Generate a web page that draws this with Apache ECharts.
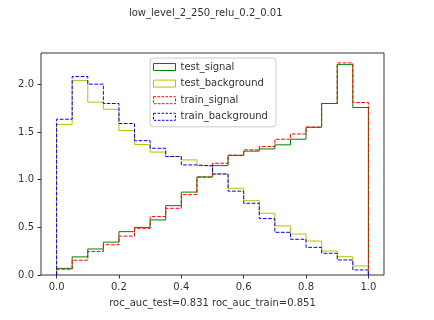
<!DOCTYPE html>
<html><head><meta charset="utf-8">
<script src="https://cdn.jsdelivr.net/npm/echarts@6/dist/echarts.min.js"></script>
<style>html,body{margin:0;padding:0;background:#fff}#c{width:434px;height:320px}</style>
</head><body><div id="c"></div>
<script>
const binEdges = [0,0.05,0.1,0.15,0.2,0.25,0.3,0.35,0.4,0.45,0.5,0.55,0.6,0.65,0.7,0.75,0.8,0.85,0.9,0.95,1.0];
const testSignal = [0.07,0.19,0.273,0.345,0.455,0.50,0.578,0.728,0.87,1.03,1.148,1.255,1.30,1.323,1.366,1.425,1.55,1.80,2.208,1.758];
const testBackground = [1.58,2.04,1.814,1.74,1.516,1.37,1.29,1.243,1.208,1.148,1.06,0.91,0.78,0.648,0.515,0.43,0.357,0.252,0.192,0.095];
const trainSignal = [0.06,0.155,0.247,0.318,0.408,0.49,0.613,0.70,0.844,1.026,1.173,1.258,1.313,1.348,1.425,1.48,1.553,1.80,2.226,1.81];
const trainBackground = [1.635,2.083,2.003,1.80,1.59,1.41,1.33,1.243,1.155,1.145,1.06,0.88,0.753,0.592,0.448,0.375,0.29,0.228,0.158,0.053];
const xTicks = [0,0.2,0.4,0.6,0.8,1.0];
const yTicks = [0,0.5,1.0,1.5,2.0];
const seriesNames = ['test_signal','test_background','train_signal','train_background'];
const titleText = 'low_level_2_250_relu_0.2_0.01';
const xLabelText = 'roc_auc_test=0.831 roc_auc_train=0.851';

function stepData(vals){
  const pts = [[binEdges[0],0]];
  for (let i=0;i<vals.length;i++) pts.push([binEdges[i], vals[i]]);
  pts.push([binEdges[binEdges.length-1], 0]);
  return pts;
}
const colors = ['#008000','#bfbf00','#ff0000','#0000ff'];
const dashes = ['solid','solid',[3.7,1.6],[3.7,1.6]];
const allVals = [testSignal,testBackground,trainSignal,trainBackground];
const font = 'DejaVu Sans';
const chart = echarts.init(document.getElementById('c'), null, {renderer:'canvas'});
chart.setOption({
  animation:false,
  backgroundColor:'#fff',
  grid:{left:41,right:50,top:53,bottom:45,show:true,borderColor:'#333',borderWidth:1,containLabel:false},
  xAxis:{type:'value',min:-0.05,max:1.05,
    axisLine:{show:false,onZero:false},splitLine:{show:false},
    axisTick:{show:true,length:3.5,lineStyle:{color:'#333'},customValues:xTicks},
    axisLabel:{customValues:xTicks,formatter:v=>v.toFixed(1),fontFamily:font,fontSize:10,color:'#333',margin:7},
    name:xLabelText,nameLocation:'middle',nameGap:23,nameTextStyle:{fontFamily:font,fontSize:10,color:'#333'}},
  yAxis:{type:'value',min:0,max:2.33,
    axisLine:{show:false,onZero:false},splitLine:{show:false},
    axisTick:{show:true,length:3.5,lineStyle:{color:'#333'},customValues:yTicks},
    axisLabel:{customValues:yTicks,formatter:v=>v.toFixed(1),fontFamily:font,fontSize:10,color:'#333',margin:7}},
  legend:{orient:'vertical',left:150,top:58,itemWidth:22,itemHeight:7,itemGap:4.6,
    padding:[3,8,4,3],backgroundColor:'rgba(255,255,255,0.8)',borderColor:'#ccc',borderWidth:1,borderRadius:3,
    textStyle:{fontFamily:font,fontSize:10,color:'#333',lineHeight:12},
    data:seriesNames.map((n,i)=>({name:n,icon:'rect',itemStyle:{color:'transparent',borderColor:colors[i],borderWidth:1,borderType:dashes[i]==='solid'?'solid':[2.5,1.5]}}))},
  graphic:[{type:'text',x:205.7,y:13,style:{text:titleText,fontFamily:font,fontSize:10,fill:'#333',align:'center',verticalAlign:'middle'}}],
  series:allVals.map((v,i)=>({name:seriesNames[i],type:'line',step:'end',symbol:'none',data:stepData(v),
    lineStyle:{color:colors[i],width:1,type:dashes[i]},itemStyle:{color:colors[i]}}))
});
</script></body></html>
